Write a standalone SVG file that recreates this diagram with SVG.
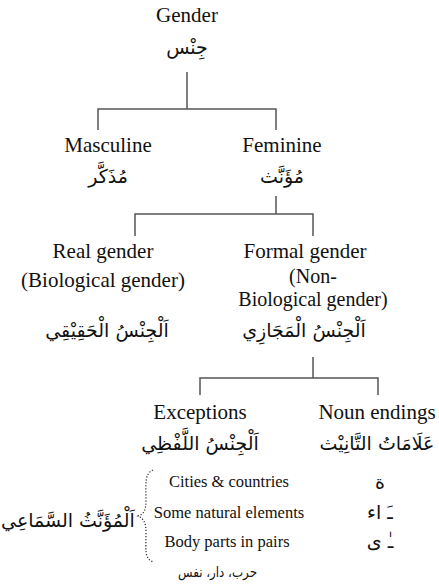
<svg xmlns="http://www.w3.org/2000/svg" width="439" height="586" viewBox="0 0 439 586">
<style>
.en{font-family:"Liberation Serif","Times New Roman",serif;font-size:21px;fill:#111;text-anchor:middle}
.en2{font-family:"Liberation Serif","Times New Roman",serif;font-size:20px;fill:#111;text-anchor:middle}
.sm{font-family:"Liberation Serif","Times New Roman",serif;font-size:16.5px;fill:#111;text-anchor:middle}
.ar{font-family:"DejaVu Sans","Noto Sans",sans-serif;font-size:19px;fill:#111;text-anchor:middle;direction:rtl}
.ars{font-family:"DejaVu Sans","Noto Sans",sans-serif;font-size:14px;fill:#111;text-anchor:end}
.ln{stroke:#555;stroke-width:1.5;fill:none}
</style>
<rect width="439" height="586" fill="#fff"/>
<g id="connectors">
<path class="ln" d="M187 72V109M98 130V109H276V130"/>
<path class="ln" d="M276 196V214M135 236V214H313V236"/>
<path class="ln" d="M313 357V378M200 395V378H378V395"/>
<path d="M153 470C144 474 146 485 146 500C146 510 144 514 138 516C144 519 146 523 146 532C146 550 144 558 153 562" stroke="#333" stroke-width="1.3" fill="none" stroke-dasharray="1.2 1.8"/>
</g>
<g id="gender"><text class="en" x="187" y="22">Gender</text><text class="ar" x="187" y="54">جِنْس</text></g>
<g id="masculine"><text class="en" x="108" y="152">Masculine</text><text class="ar" x="108" y="183">مُذَكَّر</text></g>
<g id="feminine"><text class="en" x="282" y="152">Feminine</text><text class="ar" x="282" y="183">مُؤَنَّث</text></g>
<g id="real"><text class="en" x="103" y="258">Real gender</text><text class="en" x="103" y="287">(Biological gender)</text><text class="ar" x="107" y="337">اَلْجِنْسُ الْحَقِيْقِي</text></g>
<g id="formal"><text class="en" x="305" y="258">Formal gender</text><text class="en2" x="313" y="283">(Non-</text><text class="en2" x="313" y="306">Biological gender)</text><text class="ar" x="304" y="337">اَلْجِنْسُ الْمَجَازِي</text></g>
<g id="exceptions"><text class="en" x="200" y="419">Exceptions</text><text class="ar" x="200" y="450">اَلْجِنْسُ اللَّفْظِي</text></g>
<g id="endings"><text class="en" x="377" y="419">Noun endings</text><text class="ar" x="377" y="450">عَلَامَاتُ التَّانِيْث</text>
<text class="ar" x="380" y="489">ة</text><text class="ar" x="380" y="519">ـَ اء</text><text class="ar" x="380" y="548">ـٰ ى</text></g>
<g id="sama"><text class="ar" x="68" y="527">اَلْمُؤَنَّثُ السَّمَاعِي</text>
<text class="sm" x="229" y="487">Cities &amp; countries</text><text class="sm" x="229" y="518">Some natural elements</text><text class="sm" x="227" y="547">Body parts in pairs</text><text class="ars" x="257" y="577" textLength="79" lengthAdjust="spacingAndGlyphs">حرب، دار، نفس</text></g>
</svg>
